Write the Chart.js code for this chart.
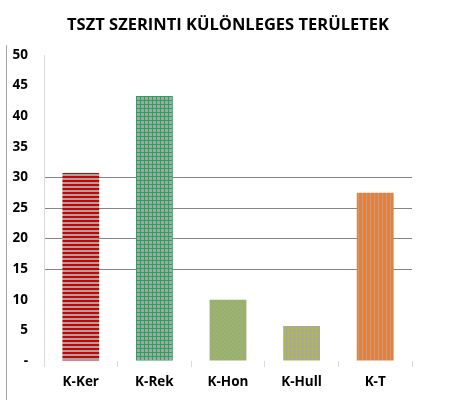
<!DOCTYPE html>
<html><head><meta charset="utf-8">
<script src="https://cdn.jsdelivr.net/npm/chart.js@4/dist/chart.umd.min.js"></script>
<style>html,body{margin:0;padding:0;background:#fff}#wrap{width:454px;height:416px;position:relative}</style>
</head><body><div id="wrap"><canvas id="c" width="454" height="416"></canvas></div>
<script>
const chartTitle = 'TSZT SZERINTI KÜLÖNLEGES TERÜLETEK';
const categories = ['K-Ker', 'K-Rek', 'K-Hon', 'K-Hull', 'K-T'];
const values = [30.7, 43.3, 10.0, 5.7, 27.5];
const yTicks = [0, 5, 10, 15, 20, 25, 30, 35, 40, 45, 50];
const gridShown = [15, 20, 25, 30];

function makePattern(kind){
  const s = 4, cv = document.createElement('canvas');
  cv.width = s; cv.height = s;
  const g = cv.getContext('2d');
  const gray = '#a6a6a6';
  g.fillStyle = gray; g.fillRect(0,0,s,s);
  if (kind === 'hstripe'){ g.fillStyle = '#d00000'; g.fillRect(0,0,s,2); }
  if (kind === 'greengrid'){ g.fillStyle = '#1fa85a'; g.fillRect(0,0,s,1); g.fillRect(0,0,1,s); }
  if (kind === 'diag'){ g.fillStyle = '#8fbc3a'; for(let i=0;i<s;i++){ g.fillRect(i,(s-1-i),1,1); g.fillRect(i,(s-i)%s,1,1);} }
  if (kind === 'yellowgrid'){ g.fillStyle = '#b3bd2c'; g.fillRect(0,0,s,1); g.fillRect(0,0,1,s); g.fillStyle = '#a6a6a6'; g.fillRect(2,0,1,1); }
  if (kind === 'vstripe'){ g.fillStyle = '#ed7d31'; g.fillRect(0,0,2,s); g.fillRect(3,0,1,s); }
  return document.getElementById('c').getContext('2d').createPattern(cv,'repeat');
}
const fills = ['hstripe','greengrid','diag','yellowgrid','vstripe'].map(makePattern);

const deco = {
  id:'deco',
  afterDraw(chart){
    const ctx = chart.ctx;
    ctx.save();
    ctx.strokeStyle = '#a6a6a6'; ctx.lineWidth = 1;
    ctx.beginPath(); ctx.moveTo(6.5,45); ctx.lineTo(6.5,400); ctx.stroke();
    ctx.fillStyle = '#000';
    ctx.font = 'bold 16.5px "Open Sans", "Liberation Sans", sans-serif';
    ctx.textAlign = 'center'; ctx.textBaseline = 'middle';
    ctx.fillText(chartTitle, 228, 25);
    ctx.restore();
  }
};

new Chart(document.getElementById('c'), {
  type:'bar',
  data:{ labels: categories, datasets:[{ data: values, backgroundColor: fills, borderWidth:0, categoryPercentage:1, barPercentage:0.5 }]},
  options:{
    responsive:false, animation:false, devicePixelRatio:1,
    layout:{ padding:{ left:0, right:42, top:55, bottom:10 } },
    plugins:{ legend:{display:false}, tooltip:{enabled:false}, title:{display:false} },
    scales:{
      y:{ min:0, max:50, afterBuildTicks(s){ s.ticks = yTicks.map(v=>({value:v})); },
          afterFit(s){ s.width = 44; },
          border:{ display:true, color:'#d9d9d9' },
          grid:{ drawTicks:false, color(c){ return gridShown.includes(c.tick && c.tick.value) ? '#868686' : 'rgba(0,0,0,0)'; } },
          ticks:{ padding:16, color:'#000', font:{ family:'"Open Sans", "Liberation Sans", sans-serif', weight:'bold', size:13.5 },
                  callback(v){ return v === 0 ? '-' : v; } } },
      x:{ afterFit(s){ s.height = 45; },
          border:{ display:false },
          grid:{ offset:true, drawOnChartArea:false, tickLength:6, color:'#d9d9d9' },
          ticks:{ padding:7, color:'#000', font:{ family:'"Open Sans", "Liberation Sans", sans-serif', weight:'bold', size:13.5 } } }
    }
  },
  plugins:[deco]
});
</script></body></html>
